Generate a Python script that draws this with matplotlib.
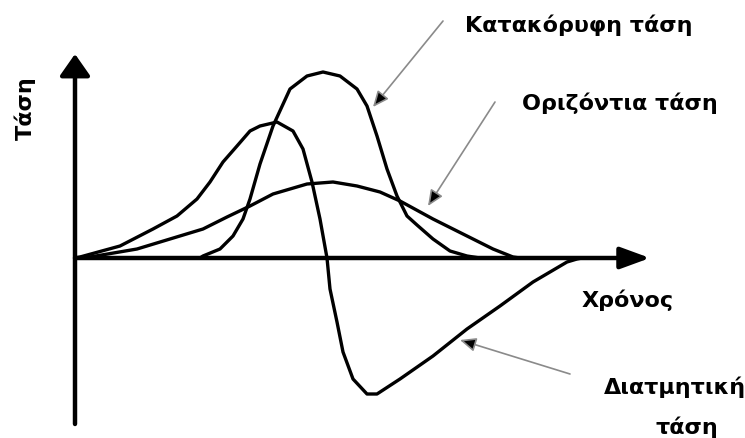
import numpy as np
import matplotlib
matplotlib.use('Agg')
import matplotlib.pyplot as plt

# --- schematic values (time, stress) ---
t_vert = [0, 125, 128, 145, 158, 168, 175, 185, 198, 215, 232, 248, 265, 282, 292, 302,
          312, 322, 332, 342, 358, 375, 392, 405]
s_vert = [0, 0, 2, 9, 22, 39, 59, 94, 132, 169, 182, 186, 182, 169, 152, 122,
          89, 62, 42, 33, 19, 7, 2, 0]

t_hor = [0, 15, 62, 95, 128, 152, 175, 198, 232, 258, 282, 305, 325, 358, 392, 418, 438, 445]
s_hor = [0, 1, 9, 19, 29, 41, 52, 64, 74, 76, 72, 66, 57, 39, 22, 9, 1, 0]

t_shear = [0, 5, 45, 78, 102, 122, 135, 148, 162, 175, 185, 202, 218, 228, 237, 245, 252,
           255, 262, 268, 278, 292, 302, 325, 358, 392, 425, 458, 492, 502, 507]
s_shear = [0, 1, 12, 29, 42, 59, 76, 96, 112, 127, 132, 136, 127, 109, 76, 39, 0,
           -31, -64, -94, -121, -136, -136, -121, -98, -71, -48, -24, -4, -1, 0]

ylabel = 'Τάση'
xlabel = 'Χρόνος'
lab_vert = 'Κατακόρυφη τάση'
lab_hor = 'Οριζόντια τάση'
lab_shear_1 = 'Διατμητική'
lab_shear_2 = 'τάση'

fig = plt.figure(figsize=(7.45, 4.39), dpi=100)
ax = fig.add_axes([0, 0, 1, 1])
ax.set_xlim(-75, 670)
ax.set_ylim(-180, 259)
ax.axis('off')

kw = dict(color='black', lw=2.4, solid_joinstyle='round', solid_capstyle='round')
ax.plot(t_vert, s_vert, **kw)
ax.plot(t_hor, s_hor, **kw)
ax.plot(t_shear, s_shear, **kw)

# axes with arrow heads
ax.annotate('', xy=(0, 204), xytext=(0, -166),
            arrowprops=dict(arrowstyle='-|>,head_length=0.6,head_width=0.42', lw=3.2,
                            color='black', mutation_scale=22, shrinkA=0, shrinkB=0))
ax.annotate('', xy=(575, 0), xytext=(0, 0),
            arrowprops=dict(arrowstyle='-|>,head_length=0.82,head_width=0.3', lw=3.2,
                            color='black', mutation_scale=22, shrinkA=0, shrinkB=0))

# pointer arrows
pkw = dict(arrowstyle='-|>,head_length=0.8,head_width=0.35', lw=1.2, color='#8a8a8a',
           fc='black', ec='#8a8a8a', mutation_scale=12, shrinkA=0, shrinkB=0)
ax.annotate('', xy=(298, 151), xytext=(368, 237), arrowprops=pkw)
ax.annotate('', xy=(353, 52), xytext=(420, 156), arrowprops=pkw)
ax.annotate('', xy=(385, -82), xytext=(495, -116), arrowprops=pkw)

tkw = dict(fontsize=16, fontweight='bold', color='black', family='DejaVu Sans')
ax.text(390, 234, lab_vert, ha='left', va='center', **tkw)
ax.text(447, 156, lab_hor, ha='left', va='center', **tkw)
ax.text(553, -41, xlabel, ha='center', va='center', **tkw)
ax.text(600, -128, lab_shear_1, ha='center', va='center', **tkw)
ax.text(612, -168, lab_shear_2, ha='center', va='center', **tkw)
ax.text(-50, 151, ylabel, ha='center', va='center', rotation=90, **tkw)

fig.savefig('out.png', dpi=100)
